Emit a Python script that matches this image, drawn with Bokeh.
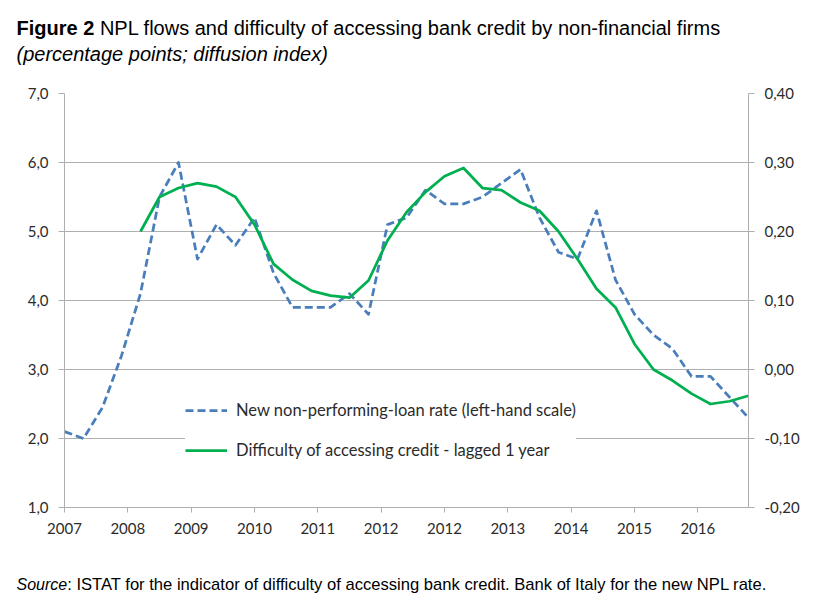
import math
from bokeh.plotting import figure
from bokeh.layouts import column, row
from bokeh.models import (Range1d, LinearAxis, FixedTicker, CustomJSTickFormatter,
                          Legend, LegendItem, ColumnDataSource)
from bokeh.core.properties import value
from bokeh.embed import file_html
from bokeh.resources import INLINE

# ---- data (quarterly observations, 2007 onward) ----
period_index = list(range(37))
year_labels = ["2007", "2008", "2009", "2010", "2011", "2012",
               "2012", "2013", "2014", "2015", "2016"]
npl_rate = [2.1, 2.0, 2.45, 3.2, 4.1, 5.5, 6.0, 4.6, 5.1, 4.8, 5.2, 4.4, 3.9,
            3.9, 3.9, 4.1, 3.8, 5.1, 5.2, 5.6, 5.4, 5.4, 5.5, 5.7, 5.9, 5.2,
            4.7, 4.6, 5.3, 4.3, 3.8, 3.5, 3.3, 2.9, 2.9, 2.6, 2.3]
credit_difficulty = [math.nan] * 4 + [
    0.20, 0.25, 0.263, 0.27, 0.265, 0.25, 0.21, 0.153, 0.13, 0.114, 0.107,
    0.104, 0.129, 0.187, 0.228, 0.257, 0.28, 0.292, 0.263, 0.26, 0.242, 0.23,
    0.20, 0.16, 0.117, 0.09, 0.037, 0.0, -0.016, -0.035, -0.05, -0.046, -0.038]
left_ticks = [1, 2, 3, 4, 5, 6, 7]
right_ticks = [-0.2, -0.1, 0.0, 0.1, 0.2, 0.3, 0.4]

title_bold = "Figure 2"
title_rest = "NPL flows and difficulty of accessing bank credit by non-financial firms"
subtitle = "(percentage points; diffusion index)"
source_italic = "Source"
source_rest = ": ISTAT for the indicator of difficulty of accessing bank credit. Bank of Italy for the new NPL rate."

months = [3 * i for i in period_index]
src = ColumnDataSource(dict(x=months, npl=npl_rate, credit=credit_difficulty))

W = 824
GRID = "#afafaf"
TXT = "#2b2b2b"
TICKFONT = "Lato"
TF = value("Liberation Sans")


def text_strip(height):
    f = figure(width=W, height=height, x_range=Range1d(0, W), y_range=Range1d(height, 0),
               output_backend="svg", toolbar_location=None,
               x_axis_location=None, y_axis_location=None,
               min_border=0, background_fill_color="white", border_fill_color="white")
    f.outline_line_color = None
    f.xgrid.visible = False
    f.ygrid.visible = False
    return f


# ---- header ----
top = text_strip(70)
top.text(x=[16], y=[27.7], text=[title_bold], text_font=TF, text_font_size="20px",
         text_font_style="bold", text_color="#000000", text_baseline="alphabetic")
top.text(x=[99.4], y=[27.7], text=[title_rest], text_font=TF, text_font_size="20px",
         text_color="#000000", text_baseline="alphabetic")
top.text(x=[16], y=[53.3], text=[subtitle], text_font=TF, text_font_size="20px",
         text_font_style="italic", text_color="#000000", text_baseline="alphabetic")

# ---- main chart ----
p = figure(width=W, height=477, x_range=Range1d(0, 108), y_range=Range1d(1, 7),
           output_backend="svg", toolbar_location=None,
           min_border_left=64, min_border_right=76, min_border_top=23,
           min_border_bottom=40, background_fill_color="white",
           border_fill_color="white")
p.outline_line_color = None
p.extra_y_ranges = {"right": Range1d(-0.2, 0.4)}

xa = p.xaxis[0]
xa.ticker = FixedTicker(ticks=list(range(0, 101, 10)))
xa.formatter = CustomJSTickFormatter(args=dict(labels=year_labels),
                                     code="return labels[Math.round(tick/10)] || '';")
ya = p.yaxis[0]
ya.ticker = FixedTicker(ticks=left_ticks)
ya.formatter = CustomJSTickFormatter(code="return tick.toFixed(1).replace('.', ',');")
ra = LinearAxis(y_range_name="right", ticker=FixedTicker(ticks=right_ticks),
                formatter=CustomJSTickFormatter(code="return tick.toFixed(2).replace('.', ',');"))
p.add_layout(ra, "right")

for ax in (xa, ya, ra):
    ax.axis_line_color = GRID
    ax.major_tick_line_color = GRID
    ax.minor_tick_line_color = None
    ax.major_tick_in = 0
    ax.major_tick_out = 6
    ax.major_label_text_font = TICKFONT
    ax.major_label_text_font_size = "15px"
    ax.major_label_text_color = TXT
    ax.major_label_standoff = 10
xa.major_tick_out = 5
xa.major_label_standoff = 10

p.xgrid.visible = False
p.ygrid.grid_line_color = GRID
p.ygrid.ticker = FixedTicker(ticks=left_ticks)

r_npl = p.line("x", "npl", source=src, line_color="#4a7ebb", line_width=2.75,
               line_dash="8 4", line_join="round")
r_cred = p.line("x", "credit", source=src, y_range_name="right",
                line_color="#00b050", line_width=2.75, line_join="round")

legend = Legend(items=[
    LegendItem(label="New non-performing-loan rate (left-hand scale)", renderers=[r_npl]),
    LegendItem(label="Difficulty of accessing credit - lagged 1 year", renderers=[r_cred]),
], location=(121, 47), padding=8, spacing=20, glyph_height=20, glyph_width=42,
   label_standoff=9, label_height=20, label_text_font=TICKFONT,
   label_text_font_size="16.5px", label_text_color=TXT,
   background_fill_color="white", background_fill_alpha=1.0,
   border_line_color=None, margin=0)
p.add_layout(legend, "center")

# ---- footer ----
bottom = text_strip(50)
bottom.text(x=[16], y=[36.6], text=[source_italic], text_font=TF, text_font_size="16px",
            text_font_style="italic", text_color="#000000", text_baseline="middle")
bottom.text(x=[66.7], y=[36.6], text=[source_rest], text_font=TF, text_font_size="16.6px",
            text_color="#000000", text_baseline="middle")

layout = column(row(top), p, row(bottom), spacing=0)
open("out.html", "w").write(file_html(layout, INLINE))
